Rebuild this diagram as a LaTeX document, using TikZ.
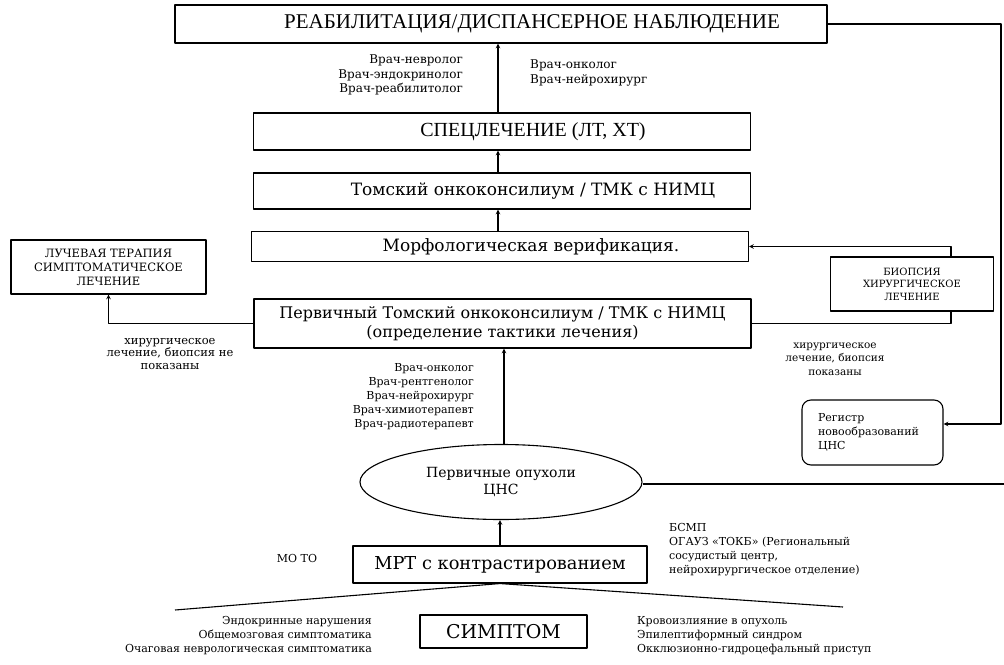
\documentclass[tikz,border=0pt]{standalone}
\usepackage{fontspec}
\setmainfont{DejaVu Serif}
\newfontfamily\tnr{Liberation Serif}
\usetikzlibrary{positioning,shapes.geometric}
\tikzset{
  box/.style={draw, line width=1.1pt, inner sep=2pt, align=center},
  bigtext/.style={font=\tnr\fontsize{21}{24}\selectfont},
  midtext/.style={font=\fontsize{17}{19}\selectfont},
  indent/.style={execute at begin node={\hspace*{62pt}}},
  smallcap/.style={font=\fontsize{11.5}{14}\selectfont},
  note/.style={inner sep=0pt, font=\fontsize{11}{14}\selectfont},
  bignote/.style={inner sep=0pt, font=\fontsize{12}{14.5}\selectfont},
}
\begin{document}
\begin{tikzpicture}[x=1pt, y=-1pt, line join=round, >=stealth]
\useasboundingbox (0,0) rectangle (1004,664);
% main column
\node[box, bigtext, indent, minimum width=652, minimum height=38] (reab) at (501,24) {РЕАБИЛИТАЦИЯ/ДИСПАНСЕРНОЕ НАБЛЮДЕНИЕ};
\node[box, bigtext, indent, font=\tnr\fontsize{20}{23}\selectfont, minimum width=497, minimum height=37] (spec) at (502,131.5) {СПЕЦЛЕЧЕНИЕ (ЛТ, ХТ)};
\node[box, midtext, indent, minimum width=497, minimum height=36] (tmk) at (502,191) {Томский онкоконсилиум / ТМК с НИМЦ};
\node[box, midtext, indent, minimum width=497, minimum height=30] (morf) at (500,246.5) {Морфологическая верификация.};
\node[box, minimum width=497, minimum height=49, inner sep=1pt, font=\fontsize{16}{19}\selectfont] (perv) at (502.5,323.5) {Первичный Томский онкоконсилиум / ТМК с НИМЦ\\(определение тактики лечения)};
\node[draw, line width=1.1pt, ellipse, inner sep=0pt, minimum width=282, minimum height=75, align=center, font=\fontsize{14}{17}\selectfont] (tum) at (501,482) {Первичные опухоли\\ЦНС};
\node[box, font=\fontsize{17.8}{20}\selectfont, minimum width=294, minimum height=37] (mrt) at (500,564.5) {МРТ с контрастированием};
\node[box, font=\fontsize{19}{21}\selectfont, minimum width=167, minimum height=33] (symp) at (503.5,631.5) {СИМПТОМ};
% side boxes
\node[box, smallcap, minimum width=195, minimum height=54] (luch) at (108.5,267) {ЛУЧЕВАЯ ТЕРАПИЯ\\СИМПТОМАТИЧЕСКОЕ\\ЛЕЧЕНИЕ};
\node[box, font=\fontsize{10}{12.5}\selectfont, minimum width=163, minimum height=54] (biop) at (912,284) {БИОПСИЯ\\ХИРУРГИЧЕСКОЕ\\ЛЕЧЕНИЕ};
\node[box, note, rounded corners=9pt, minimum width=141, minimum height=65, inner xsep=16pt, align=left, text width=109] (reg) at (872.5,432.5) {Регистр\\новообразований\\ЦНС};
% texts
\node[bignote, anchor=north east, align=right] (vr1) at (463,55) {Врач-невролог\\Врач-эндокринолог\\Врач-реабилитолог};
\node[bignote, anchor=north west, align=left] (vr2) at (530,60) {Врач-онколог\\Врач-нейрохирург};
\node[note, anchor=north east, align=right] (vr3) at (474,363) {Врач-онколог\\Врач-рентгенолог\\Врач-нейрохирург\\Врач-химиотерапевт\\Врач-радиотерапевт};
\node[note, align=center, font=\fontsize{11.5}{12.5}\selectfont] (nopok) at (170,354) {хирургическое\\лечение, биопсия не\\показаны};
\node[note, align=center, font=\fontsize{10.5}{13.5}\selectfont] (pok) at (835,359) {хирургическое\\лечение, биопсия\\показаны};
\node[note] (moto) at (297,558) {МО ТО};
\node[note, anchor=north west, align=left] (bsmp) at (669,523) {БСМП\\ОГАУЗ «ТОКБ» (Региональный\\сосудистый центр,\\нейрохирургическое отделение)};
\node[note, anchor=north east, align=right] (sleft) at (372,616) {Эндокринные нарушения\\Общемозговая симптоматика\\Очаговая неврологическая симптоматика};
\node[note, anchor=north west, align=left] (sright) at (637,616) {Кровоизлияние в опухоль\\Эпилептиформный синдром\\Окклюзионно-гидроцефальный приступ};
% connectors
\coordinate (rgt) at (1001,424);
\coordinate (edge) at (1004,484);
\coordinate (rl) at (175,610);
\coordinate (rr) at (843,607);
\begin{scope}[line width=1.1pt]
\draw[->] (spec.north -| 498,0) -- (reab.south -| 498,0);
\draw[->] (tmk.north -| 498,0) -- (spec.south -| 498,0);
\draw[->] (morf.north -| 498,0) -- (tmk.south -| 498,0);
\draw[->] ([xshift=39pt]biop.north) |- (morf.east);
\draw ([xshift=39pt]biop.south) |- (perv.east);
\draw[->] (perv.west) -| (luch.south);
\draw[->] (tum.north -| 504,0) -- (perv.south -| 504,0);
\draw[->] (mrt.north) -- (mrt.north |- tum.south);
\draw[->] (reab.east) -| (rgt) -- (rgt -| reg.east);
\draw (tum.east |- edge) -- (edge);
\draw (rl) -- (mrt.south) -- (rr);
\end{scope}
\end{tikzpicture}
\end{document}
